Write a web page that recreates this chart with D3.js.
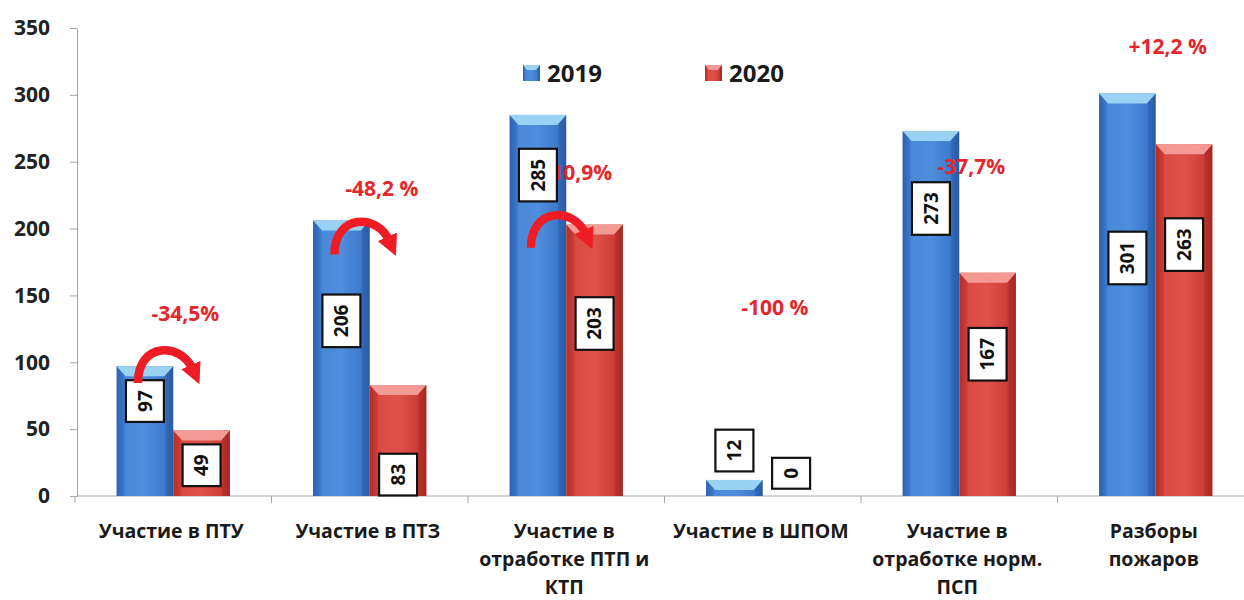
<!DOCTYPE html>
<html lang="ru">
<head>
<meta charset="UTF-8">
<title>Участие 2019 - 2020</title>
<script src="https://cdn.jsdelivr.net/npm/d3@7"></script>
<style>
    body { margin: 0; background: #fff; }
    text { font-family: 'Open Sans', 'DejaVu Sans', sans-serif; font-weight: bold; }
</style>
</head>
<body>
<script>
// данные
var categories = ['Участие в ПТУ', 'Участие в ПТЗ', 'Участие в\nотработке  ПТП и\nКТП', 'Участие в ШПОМ',
    'Участие в\nотработке  норм.\nПСП', 'Разборы\nпожаров'];
var years = ['2019', '2020'];
var values2019 = [97, 206, 285, 12, 273, 301];
var values2020 = [49, 83, 203, 0, 167, 263];
var yTicks = [0, 50, 100, 150, 200, 250, 300, 350];
var changes = ['-34,5%', '-48,2 %', '-10,9%', '-100 %', '-37,7%', '+12,2 %'];
// высота подписей изменений (в единицах оси)
var changeAt = [136, 230, 242, 141, 246, 336];
// центры подписей значений (в единицах оси)
var labelAt2019 = [71, 131, 240, 34, 215, 178];
var labelAt2020 = [23, 16, 129, 17, 106, 188];
// изогнутые стрелки: номер категории и верх дуги
var arrowCats = [0, 1, 2];
var arrowTop = [107, 203, 208];

var width = 1244;
var height = 600;
var svg = d3.select('body').append('svg')
    .attr('width', width)
    .attr('height', height);

var y = d3.scaleLinear().domain([0, 350]).range([496, 28]);
var x = d3.scaleBand()
    .domain(d3.range(categories.length))
    .range([75, 1254])
    .paddingInner(0.423)
    .paddingOuter(0.2115);
var xs = d3.scaleBand().domain(years).range([0, x.bandwidth()]);
var bw = xs.bandwidth();

var colors = {
    '2019': { stops: ['#2c61b0', '#3a76c9', '#4a88d8', '#4f8edc', '#3e7acb', '#3067b6', '#2a5aa3'], cap: '#9ad2f4' },
    '2020': { stops: ['#b32e29', '#c93a34', '#da4a43', '#df5249', '#cd3e38', '#b9302a', '#a52823'], cap: '#f39a94' }
};
var offsets = [0, 0.12, 0.16, 0.5, 0.84, 0.88, 1];

var defs = svg.append('defs');
years.forEach(function(yr) {
    var g = defs.append('linearGradient').attr('id', 'g' + yr)
        .attr('x1', 0).attr('x2', 1).attr('y1', 0).attr('y2', 0);
    colors[yr].stops.forEach(function(c, i) {
        g.append('stop').attr('offset', offsets[i]).attr('stop-color', c);
    });
});
defs.append('marker')
    .attr('id', 'head')
    .attr('viewBox', '0 0 10 10')
    .attr('markerUnits', 'userSpaceOnUse')
    .attr('markerWidth', 21)
    .attr('markerHeight', 21)
    .attr('refX', 2)
    .attr('refY', 5)
    .attr('orient', 'auto')
    .append('path')
    .attr('d', 'M0,0 L10,5 L0,10 z')
    .attr('fill', '#ee1c25');

// оси
var yAxis = svg.append('g')
    .attr('transform', 'translate(77,0)')
    .call(d3.axisLeft(y).tickValues(yTicks).tickSize(7).tickSizeOuter(0).tickPadding(20));
yAxis.select('.domain').attr('stroke', '#a6a6a6');
yAxis.selectAll('.tick line').attr('stroke', '#a6a6a6');
yAxis.selectAll('.tick text')
    .attr('font-size', '21px')
    .attr('font-family', null)
    .attr('fill', '#222');

svg.append('line')
    .attr('x1', 77).attr('x2', width)
    .attr('y1', y(0)).attr('y2', y(0))
    .attr('stroke', '#a6a6a6');
svg.selectAll('.xtick')
    .data(d3.range(categories.length + 1))
    .enter()
    .append('line')
    .attr('class', 'xtick')
    .attr('x1', function(d) { return x.range()[0] + d * x.step(); })
    .attr('x2', function(d) { return x.range()[0] + d * x.step(); })
    .attr('y1', y(0))
    .attr('y2', y(0) + 7)
    .attr('stroke', '#a6a6a6');

// столбцы
var bars = [];
categories.forEach(function(c, i) {
    bars.push({ i: i, yr: '2019', v: values2019[i], at: labelAt2019[i] });
    bars.push({ i: i, yr: '2020', v: values2020[i], at: labelAt2020[i] });
});
function bx(d) { return x(d.i) + xs(d.yr); }

var barG = svg.selectAll('.bar')
    .data(bars.filter(function(d) { return d.v > 0; }))
    .enter()
    .append('g')
    .attr('class', 'bar');
barG.append('rect')
    .attr('x', bx)
    .attr('y', function(d) { return y(d.v); })
    .attr('width', bw)
    .attr('height', function(d) { return y(0) - y(d.v); })
    .attr('fill', function(d) { return 'url(#g' + d.yr + ')'; });
barG.append('path')
    .attr('d', function(d) {
        var x0 = bx(d), t = y(d.v), h = Math.min(10, y(0) - t);
        return 'M' + x0 + ',' + t + 'L' + (x0 + bw) + ',' + t +
            'L' + (x0 + bw - 9) + ',' + (t + h) + 'L' + (x0 + 9) + ',' + (t + h) + 'Z';
    })
    .attr('fill', function(d) { return colors[d.yr].cap; });

// подписи изменений
svg.selectAll('.chg')
    .data(changes)
    .enter()
    .append('text')
    .attr('class', 'chg')
    .attr('x', function(d, i) { return x(i) + x.bandwidth() / 2 + 12; })
    .attr('y', function(d, i) { return y(changeAt[i]); })
    .attr('dy', '0.35em')
    .attr('text-anchor', 'middle')
    .attr('font-size', '21px')
    .attr('fill', '#e5262b')
    .text(function(d) { return d; });

// подписи значений в рамках
var lab = svg.selectAll('.lab')
    .data(bars)
    .enter()
    .append('g')
    .attr('class', 'lab')
    .attr('transform', function(d) {
        return 'translate(' + (bx(d) + bw / 2) + ',' + y(d.at) + ') rotate(-90)';
    });
lab.append('rect')
    .attr('fill', '#fff')
    .attr('stroke', '#111')
    .attr('stroke-width', 2.2);
lab.append('text')
    .attr('text-anchor', 'middle')
    .attr('dy', '0.36em')
    .attr('font-size', '19px')
    .attr('fill', '#111')
    .text(function(d) { return d.v; });
lab.each(function() {
    var g = d3.select(this);
    var len = g.select('text').node().getComputedTextLength();
    g.select('rect')
        .attr('x', -len / 2 - 10)
        .attr('y', -19)
        .attr('width', len + 20)
        .attr('height', 38);
});

// стрелки
svg.selectAll('.arrow')
    .data(arrowCats)
    .enter()
    .append('path')
    .attr('class', 'arrow')
    .attr('d', function(c, k) {
        var t = y(arrowTop[k]);
        var x0 = x(c) + xs('2019') + bw / 2 - 7;
        var x1 = x(c) + xs('2020') + bw / 2 - 9;
        var ctl = t - 11;
        return 'M' + x0 + ',' + (t + 30) + 'C' + x0 + ',' + ctl + ' ' + (x1 - 12) + ',' + ctl +
            ' ' + x1 + ',' + (t + 16);
    })
    .attr('fill', 'none')
    .attr('stroke', '#ee1c25')
    .attr('stroke-width', 8.5)
    .attr('marker-end', 'url(#head)');

// подписи категорий
var catText = svg.selectAll('.cat')
    .data(categories)
    .enter()
    .append('text')
    .attr('class', 'cat')
    .attr('text-anchor', 'middle')
    .attr('font-size', '19.5px')
    .attr('fill', '#1a1a1a')
    .attr('transform', function(d, i) { return 'translate(' + (x(i) + x.bandwidth() / 2 - 2) + ',538)'; });
catText.each(function(d) {
    var t = d3.select(this);
    d.split('\n').forEach(function(line, j) {
        t.append('tspan').attr('x', 0).attr('y', j * 28).text(line);
    });
});

// легенда
var leg = svg.selectAll('.leg')
    .data(years)
    .enter()
    .append('g')
    .attr('class', 'leg')
    .attr('transform', function(d, i) { return 'translate(' + (523 + i * 182) + ',65)'; });
leg.append('rect')
    .attr('width', 17).attr('height', 16)
    .attr('fill', function(d) { return 'url(#g' + d + ')'; });
leg.append('path')
    .attr('d', 'M0,0L17,0L13,5L4,5Z')
    .attr('fill', function(d) { return colors[d].cap; });
leg.append('text')
    .attr('x', 24)
    .attr('y', 8)
    .attr('dy', '0.36em')
    .attr('font-size', '24px')
    .attr('fill', '#1a1a1a')
    .text(function(d) { return d; });
</script>
</body>
</html>
